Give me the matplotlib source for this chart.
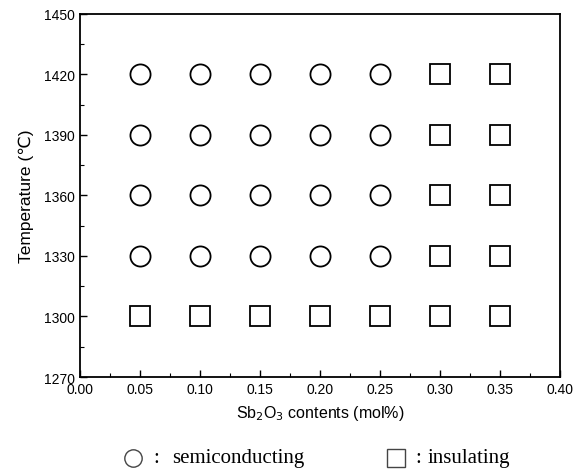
import matplotlib
matplotlib.use("Agg")
import matplotlib.pyplot as plt
from matplotlib.lines import Line2D

contents = [0.05, 0.10, 0.15, 0.20, 0.25, 0.30, 0.35]
temperatures = [1300, 1330, 1360, 1390, 1420]
# state grid: rows = temperatures, cols = contents ('S' semiconducting, 'I' insulating)
states = [
    ["I", "I", "I", "I", "I", "I", "I"],  # 1300
    ["S", "S", "S", "S", "S", "I", "I"],  # 1330
    ["S", "S", "S", "S", "S", "I", "I"],  # 1360
    ["S", "S", "S", "S", "S", "I", "I"],  # 1390
    ["S", "S", "S", "S", "S", "I", "I"],  # 1420
]
x_ticks = [0.00, 0.05, 0.10, 0.15, 0.20, 0.25, 0.30, 0.35, 0.40]
x_minor = [0.025, 0.075, 0.125, 0.175, 0.225, 0.275, 0.325, 0.375]
y_ticks = [1270, 1300, 1330, 1360, 1390, 1420, 1450]
y_minor = [1285, 1315, 1345, 1375, 1405, 1435]
legend_labels = ["semiconducting", "insulating"]

plt.rcParams['font.family'] = ['Liberation Sans', 'DejaVu Sans']

fig = plt.figure(figsize=(5.76, 4.77), dpi=100)
ax = fig.add_axes([0.139, 0.2075, 0.833, 0.7615])

sx, sy, ix, iy = [], [], [], []
for ti, t in enumerate(temperatures):
    for ci, c in enumerate(contents):
        if states[ti][ci] == "S":
            sx.append(c); sy.append(t)
        else:
            ix.append(c); iy.append(t)

ax.plot(sx, sy, 'o', ms=14.5, mfc='white', mec='black', mew=1.3, ls='none')
ax.plot(ix, iy, 's', ms=15, mfc='white', mec='black', mew=1.3, ls='none')

ax.set_xlim(0.0, 0.40)
ax.set_ylim(1270, 1450)
ax.set_xticks(x_ticks)
ax.set_xticklabels([f"{v:.2f}" for v in x_ticks])
ax.set_xticks(x_minor, minor=True)
ax.set_yticks(y_ticks)
ax.set_yticks(y_minor, minor=True)
ax.tick_params(which='both', direction='in', top=False, right=False, labelsize=10)
ax.tick_params(which='major', length=5, width=1)
ax.tick_params(which='minor', length=3, width=0.8)
for s in ax.spines.values():
    s.set_linewidth(1.3)

ax.set_xlabel("Sb$_2$O$_3$ contents (mol%)", fontsize=11.5, labelpad=5)
ax.set_ylabel("Temperature (\u2103)", fontsize=12.5, labelpad=7)

# key below the chart
serif = ['Liberation Serif', 'DejaVu Serif']
key_y = 0.038
for marker, mx, cx, tx, label in [('o', 0.231, 0.272, 0.299, legend_labels[0]),
                                   ('s', 0.6875, 0.727, 0.743, legend_labels[1])]:
    fig.add_artist(Line2D([mx], [key_y], marker=marker, ls='none', ms=12.5,
                          mfc='white', mec='#444444', mew=1, transform=fig.transFigure))
    fig.text(cx, key_y, ":", ha='center', va='center', fontsize=15, family=serif)
    fig.text(tx, key_y, label, ha='left', va='center', fontsize=15, family=serif)

fig.savefig("out.png", dpi=100)
